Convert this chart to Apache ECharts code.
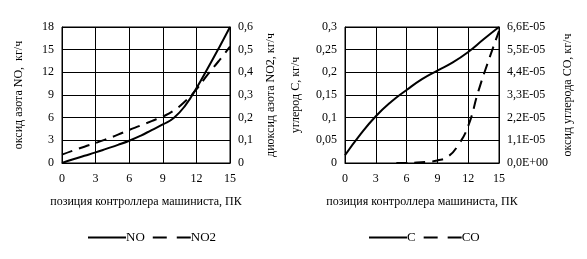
<!DOCTYPE html>
<html>
<head>
<meta charset="utf-8">
<script src="https://cdn.jsdelivr.net/npm/echarts@6/dist/echarts.min.js"></script>
<style>
  html, body { margin: 0; padding: 0; background: #fff; }
  #chart { width: 587px; height: 259px; }
</style>
</head>
<body>
<div id="chart"></div>
<script>
// позиция контроллера
const posNO = [0, 1, 2, 3, 4, 5, 6, 7, 8, 9, 10, 11, 12, 13, 14, 15];
const valNO = [0, 0.5, 0.95, 1.4, 1.9, 2.4, 2.95, 3.6, 4.35, 5.1, 6.0, 7.6, 9.9, 12.5, 15.2, 18];
const valNO2 = [0.037, 0.055, 0.072, 0.088, 0.106, 0.125, 0.146, 0.165, 0.185, 0.205, 0.232, 0.272, 0.325, 0.39, 0.45, 0.513];

const posC = [0, 1.5, 3, 4.5, 6, 7.5, 9, 10.5, 12, 13.5, 15];
const valC = [0.017, 0.063, 0.103, 0.135, 0.161, 0.185, 0.204, 0.222, 0.245, 0.273, 0.3];
const posCO = [5, 6, 7, 8, 9, 10, 11, 12, 13, 14, 15];
const valCO = [0, 0, 0.0000002, 0.0000006, 0.0000012, 0.0000030, 0.0000085, 0.000018, 0.000035, 0.000050, 0.000064];

const font = "Liberation Serif";
const comma = v => String(v).replace(".", ",");
const sci = v => {
  let [m, e] = v.toExponential(1).split("e");
  const sign = e[0] === "-" ? "-" : "+";
  e = e.replace(/[+-]/, "");
  return m.replace(".", ",") + "E" + sign + e.padStart(2, "0");
};
const pairs = (xs, ys) => xs.map((x, i) => [x, ys[i]]);

const txt = { color: "#000", fontFamily: font, fontSize: 12 };
const blackLine = { lineStyle: { color: "#000", width: 1 } };

function xAxis(gi) {
  return {
    type: "value", gridIndex: gi, min: 0, max: 15, interval: 3,
    name: "позиция контроллера машиниста, ПК", nameLocation: "middle", nameGap: 33,
    nameTextStyle: txt,
    axisLabel: Object.assign({ margin: 10 }, txt),
    axisLine: blackLine, axisTick: { show: false },
    splitLine: { show: true, lineStyle: { color: "#000", width: 1 } }
  };
}
function yAxis(gi, pos, max, interval, name, gap, fmt, splits) {
  return {
    type: "value", gridIndex: gi, position: pos, min: 0, max: max, interval: interval,
    name: name, nameLocation: "middle", nameGap: gap, nameTextStyle: txt,
    axisLabel: Object.assign({ margin: 8, formatter: fmt }, txt),
    axisLine: { show: true, lineStyle: { color: "#000", width: 1 } },
    axisTick: { show: false },
    splitLine: { show: splits, lineStyle: { color: "#000", width: 1 } }
  };
}
function legend(solid, dashed, left) {
  return {
    data: [solid, { name: dashed, lineStyle: { type: [14, 10] } }],
    left: left, top: 226, itemWidth: 38, itemHeight: 12, itemGap: 7,
    itemStyle: { opacity: 0 },
    textStyle: Object.assign({}, txt, { fontSize: 13, padding: [0, 0, 0, -5] })
  };
}

const chart = echarts.init(document.getElementById("chart"));
chart.setOption({
  animation: false,
  grid: [
    { left: 62, top: 27, width: 168, height: 136, show: true, borderColor: "#000", borderWidth: 1 },
    { left: 345, top: 27, width: 154, height: 136, show: true, borderColor: "#000", borderWidth: 1 }
  ],
  legend: [legend("NO", "NO2", 82), legend("C", "CO", 363)],
  xAxis: [xAxis(0), xAxis(1)],
  yAxis: [
    yAxis(0, "left", 18, 3, "оксид азота NO,  кг/ч", 37, v => comma(v), true),
    yAxis(0, "right", 0.6, 0.1, "диоксид азота NO2, кг/ч", 35, v => comma(v), false),
    yAxis(1, "left", 0.3, 0.05, "углерод C, кг/ч", 43, v => comma(v), true),
    yAxis(1, "right", 0.000066, 0.000011, "оксид углерода CO, кг/ч", 63, v => sci(v), false)
  ],
  series: [
    { name: "NO", type: "line", xAxisIndex: 0, yAxisIndex: 0, data: pairs(posNO, valNO), smooth: true, symbol: "none", lineStyle: { color: "#000", width: 2 }, itemStyle: { color: "#000" } },
    { name: "NO2", type: "line", xAxisIndex: 0, yAxisIndex: 1, data: pairs(posNO, valNO2), smooth: true, symbol: "none", lineStyle: { color: "#000", width: 2, type: [11, 7] }, itemStyle: { color: "#000" } },
    { name: "C", type: "line", xAxisIndex: 1, yAxisIndex: 2, data: pairs(posC, valC), smooth: true, symbol: "none", lineStyle: { color: "#000", width: 2 }, itemStyle: { color: "#000" } },
    { name: "CO", type: "line", xAxisIndex: 1, yAxisIndex: 3, data: pairs(posCO, valCO), smooth: true, symbol: "none", lineStyle: { color: "#000", width: 2, type: [11, 7] }, itemStyle: { color: "#000" } }
  ]
});
</script>
</body>
</html>
